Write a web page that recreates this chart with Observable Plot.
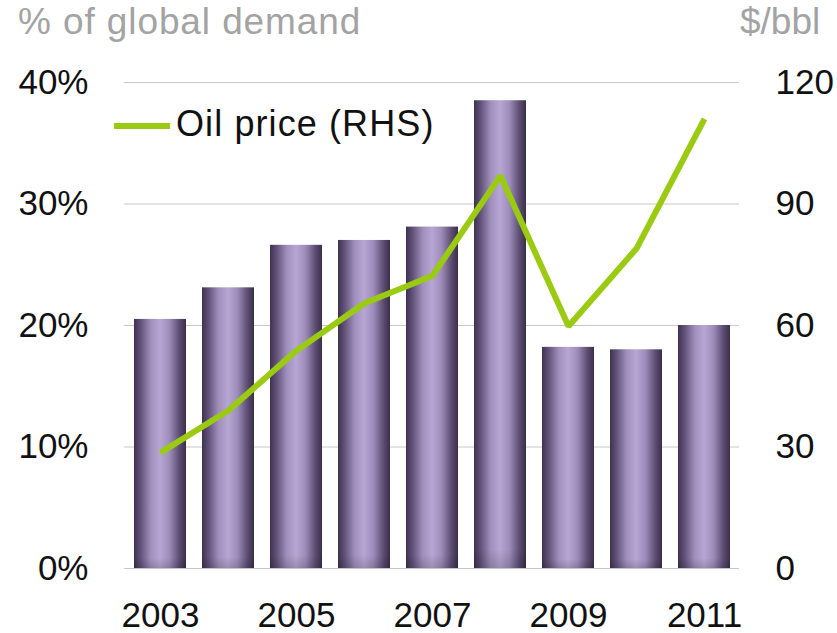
<!DOCTYPE html>
<html>
<head>
<meta charset="utf-8">
<script src="https://cdn.jsdelivr.net/npm/d3@7"></script>
<script src="https://cdn.jsdelivr.net/npm/@observablehq/plot@0.6"></script>
<style>
  html, body { margin: 0; padding: 0; background: #fff; }
  #wrap { position: relative; width: 837px; height: 633px; font-family: "Liberation Sans", Arial, sans-serif; }
  .lab { position: absolute; white-space: nowrap; line-height: 1; }
  #ttl { left: 18px; top: 3px; font-size: 37px; letter-spacing: 0.9px; color: #a3a3a3; }
  #ttr { left: 740px; top: 3px; font-size: 37px; color: #a3a3a3; }
  #leg { left: 114px; top: 106px; font-size: 36px; letter-spacing: 1.1px; color: #111; display: flex; align-items: center; }
  #leg .sw { width: 56px; height: 6px; background: #9acb12; margin-right: 6px; margin-top: 4px; }
</style>
</head>
<body>
<div id="wrap">
  <div id="chart"></div>
  <div class="lab" id="ttl">% of global demand</div>
  <div class="lab" id="ttr">$/bbl</div>
  <div class="lab" id="leg"><span class="sw"></span><span>Oil price (RHS)</span></div>
</div>
<script>
const years = ["2003","2004","2005","2006","2007","2008","2009","2010","2011"];
const shares = [20.5, 23.1, 26.6, 27.0, 28.1, 38.5, 18.2, 18.0, 20.0];   // % of global demand
const prices = [28.6, 39.0, 53.8, 65.5, 72.3, 97.0, 59.8, 79.0, 111.0]; // $/bbl
const leftTicks = [0, 10, 20, 30, 40];
const rightTicks = [0, 30, 60, 90, 120];
const xTicks = ["2003","2005","2007","2009","2011"];
const ratio = 120 / 40; // RHS units per LHS unit

const data = years.map((y, i) => ({year: y, share: shares[i], price: prices[i]}));

const chart = Plot.plot({
  width: 837,
  height: 633,
  marginTop: 82,
  marginBottom: 65,
  marginLeft: 124,
  marginRight: 98,
  style: {fontFamily: "'Liberation Sans', Arial, sans-serif", fontSize: "35px", color: "#111", background: "transparent"},
  x: {domain: years, paddingInner: 0.24, paddingOuter: 0.12, label: null},
  y: {domain: [0, 40], label: null},
  marks: [
    Plot.gridY(leftTicks, {stroke: "#c8c8c8", strokeOpacity: 1, strokeWidth: 1.2}),
    Plot.barY(data, {x: "year", y: "share", fill: "url(#barGrad)"}),
    Plot.barY(data, {x: "year", y: "share", fill: "url(#barShade)"}),
    Plot.line(data, {x: "year", y: d => d.price / ratio, stroke: "#9acb12", strokeWidth: 6, strokeLinejoin: "miter", strokeLinecap: "butt"}),
    Plot.axisY({ticks: leftTicks, tickFormat: d => d + "%", tickSize: 0, tickPadding: 36, anchor: "left", label: null}),
    Plot.axisY({ticks: rightTicks.map(v => v / ratio), tickFormat: d => String(Math.round(d * ratio)), tickSize: 0, tickPadding: 36, anchor: "right", label: null}),
    Plot.axisX({ticks: xTicks, tickSize: 0, tickPadding: 34, label: null})
  ]
});

const ns = "http://www.w3.org/2000/svg";
const defs = document.createElementNS(ns, "defs");
defs.innerHTML = `
  <linearGradient id="barGrad" x1="0" y1="0" x2="1" y2="0">
    <stop offset="0" stop-color="#3e3250"/>
    <stop offset="0.12" stop-color="#5f5077"/>
    <stop offset="0.32" stop-color="#a08fbc"/>
    <stop offset="0.5" stop-color="#b6a6d2"/>
    <stop offset="0.68" stop-color="#9e8dba"/>
    <stop offset="0.88" stop-color="#5a4b70"/>
    <stop offset="1" stop-color="#3a2f4a"/>
  </linearGradient>
  <linearGradient id="barShade" x1="0" y1="0" x2="0" y2="1">
    <stop offset="0" stop-color="#000" stop-opacity="0"/>
    <stop offset="0.96" stop-color="#000" stop-opacity="0"/>
    <stop offset="1" stop-color="#000" stop-opacity="0.15"/>
  </linearGradient>`;
chart.insertBefore(defs, chart.firstChild);
document.getElementById("chart").appendChild(chart);
</script>
</body>
</html>
